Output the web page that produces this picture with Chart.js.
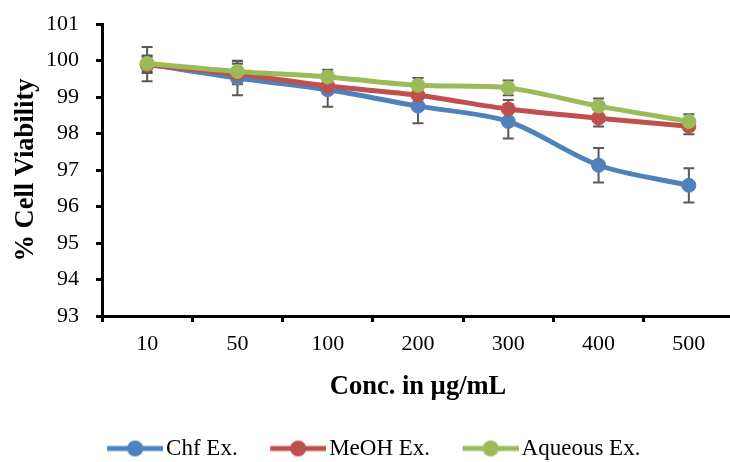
<!DOCTYPE html>
<html>
<head>
<meta charset="utf-8">
<script src="https://cdn.jsdelivr.net/npm/chart.js@4/dist/chart.umd.min.js"></script>
<style>
html,body{margin:0;padding:0;overflow:hidden;background:#fff;width:730px;height:462px;}
#wrap{width:742px;height:462px;}
</style>
</head>
<body>
<div id="wrap"><canvas id="c" width="742" height="462" style="width:742px;height:462px"></canvas></div>
<script>
const categories = ["10", "50", "100", "200", "300", "400", "500"];
const chfValues = [99.9, 99.52, 99.2, 98.75, 98.33, 97.13, 96.58];
const meohValues = [99.88, 99.63, 99.3, 99.05, 98.67, 98.42, 98.2];
const aqueousValues = [99.92, 99.7, 99.55, 99.32, 99.25, 98.75, 98.33];
const chfErrors = [0.47, 0.47, 0.47, 0.47, 0.47, 0.47, 0.47];
const meohErrors = [0.22, 0.28, 0.22, 0.22, 0.25, 0.23, 0.22];
const aqueousErrors = [0.22, 0.28, 0.2, 0.2, 0.2, 0.21, 0.2];
const seriesNames = ["Chf Ex.", "MeOH Ex.", "Aqueous Ex."];
const colors = ["#4F81BD", "#C0504D", "#9BBB59"];
const yTitle = "% Cell Viability";
const xTitle = "Conc. in µg/mL";

const errorSets = [chfErrors, meohErrors, aqueousErrors];
const serif = "'Liberation Serif', 'Times New Roman', serif";

function legendImage(color) {
  const c = document.createElement('canvas');
  c.width = 93; c.height = 20;
  const g = c.getContext('2d');
  g.strokeStyle = color; g.lineWidth = 5; g.lineCap = 'butt';
  g.beginPath(); g.moveTo(37, 10); g.lineTo(93, 10); g.stroke();
  g.fillStyle = color;
  g.beginPath(); g.arc(65, 10, 8, 0, Math.PI * 2); g.fill();
  return c;
}
const legendImages = colors.map(legendImage);

const errorBarPlugin = {
  id: 'errorBars',
  beforeDatasetsDraw(chart) {
    const ctx = chart.ctx;
    const xs = chart.scales.x, ys = chart.scales.y;
    ctx.save();
    ctx.strokeStyle = '#595959';
    ctx.lineWidth = 2;
    chart.data.datasets.forEach((ds, di) => {
      const errs = errorSets[di];
      ds.data.forEach((v, i) => {
        const x = xs.getPixelForValue(i);
        const yt = ys.getPixelForValue(v + errs[i]);
        const yb = ys.getPixelForValue(v - errs[i]);
        ctx.beginPath();
        ctx.moveTo(x, yt); ctx.lineTo(x, yb);
        ctx.moveTo(x - 5.5, yt); ctx.lineTo(x + 5.5, yt);
        ctx.moveTo(x - 5.5, yb); ctx.lineTo(x + 5.5, yb);
        ctx.stroke();
      });
    });
    ctx.restore();
  }
};

function mkDataset(i, data, order) {
  return {
    label: seriesNames[i],
    data: data,
    borderColor: colors[i],
    backgroundColor: colors[i],
    pointBackgroundColor: colors[i],
    pointBorderColor: colors[i],
    pointRadius: 7,
    pointBorderWidth: 1,
    borderWidth: 5,
    tension: 0.3,
    order: order
  };
}

new Chart(document.getElementById('c'), {
  type: 'line',
  data: {
    labels: categories,
    datasets: [
      mkDataset(0, chfValues, 3),
      mkDataset(1, meohValues, 2),
      mkDataset(2, aqueousValues, 1)
    ]
  },
  plugins: [errorBarPlugin],
  options: {
    responsive: false,
    animation: false,
    layout: { padding: { left: -20, top: 24, right: 3, bottom: -8 } },
    plugins: {
      tooltip: { enabled: false },
      legend: {
        position: 'bottom',
        labels: {
          usePointStyle: true,
          pointStyleWidth: 76,
          padding: 4,
          color: '#000',
          font: { family: serif, size: 23 },
          sort: (a, b) => a.datasetIndex - b.datasetIndex,
          generateLabels: (chart) => {
            const items = Chart.defaults.plugins.legend.labels.generateLabels(chart);
            items.forEach(it => { it.pointStyle = legendImages[it.datasetIndex]; it.fontColor = '#000'; });
            return items;
          }
        }
      }
    },
    scales: {
      x: {
        type: 'category',
        offset: true,
        afterFit: (s) => { s.height = 117; s.paddingLeft = 0; s.paddingRight = 0; },
        grid: { display: true, drawOnChartArea: false, drawTicks: true, tickLength: 6, tickColor: '#000', tickWidth: 3, offset: true },
        border: { display: true, color: '#000', width: 3 },
        ticks: { color: '#000', font: { family: serif, size: 22 }, padding: 9, maxRotation: 0 },
        title: { display: true, text: xTitle, color: '#000', font: { family: serif, size: 26.5, weight: 'bold' }, padding: { top: 0, bottom: 30 } }
      },
      y: {
        min: 93, max: 101,
        afterFit: (s) => { s.width = 122; s.paddingTop = 0; s.paddingBottom = 0; },
        grid: { display: true, drawOnChartArea: false, drawTicks: true, tickLength: 6, tickColor: '#000', tickWidth: 3 },
        border: { display: true, color: '#000', width: 3 },
        ticks: { stepSize: 1, color: '#000', font: { family: serif, size: 22 }, padding: 17 },
        title: { display: true, text: yTitle, color: '#000', font: { family: serif, size: 26.5, weight: 'bold' }, padding: { top: 30, bottom: 0 } }
      }
    }
  }
});
</script>
</body>
</html>
